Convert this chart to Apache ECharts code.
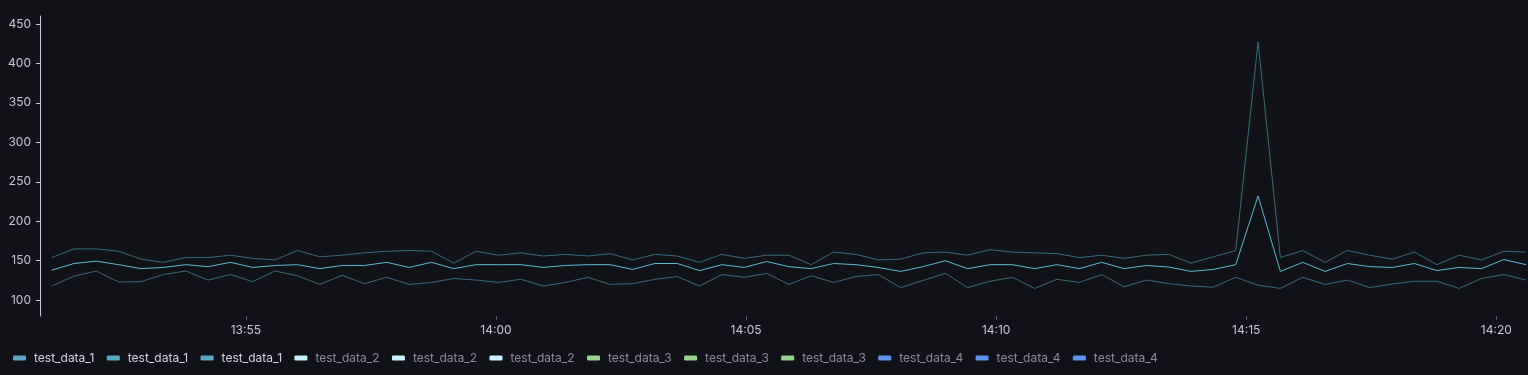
<!DOCTYPE html>
<html>
<head>
<meta charset="utf-8">
<script src="https://cdn.jsdelivr.net/npm/echarts@6/dist/echarts.min.js"></script>
<style>
html,body{margin:0;padding:0;background:#111217;}
#chart{width:1528px;height:375px;}
</style>
</head>
<body>
<div id="chart"></div>
<script>
// time of the first sample (seconds since midnight, 13:51:07) and the sample step (s)
const startSec = 49867;
const stepSec = 26.8;

const upperValues = [154,165,165,162,152,148,154,154,157,153,151,
  163,155,157,160,162,163,162,147,162,157,160,
  156,158,156,159,151,158,156,148,158,153,157,
  157,145,161,158,151,152,160,161,157,164,161,
  160,159,154,157,153,157,158,147,155,163,
  427,
  154,163,148,163,157,152,161,145,157,151,162,161];

const meanValues = [138,146.5,149.5,145,140,141.5,145,142.5,148,141.5,144,
  145,140,144,144,148,141.5,148,140,145,145,145,
  141.5,144,145,145,139,146.5,146.5,137.5,145,141.5,149,
  142.5,140,146.5,145,141.5,136.5,142.5,150,140,145,145,
  140,145,140,148,140,144,142,136.5,139,145,
  232,
  136.5,148,136.5,146.5,142.5,141.5,146.5,137.5,141.5,140,151.5,145];

const lowerValues = [118,130.5,137,123,123.5,132.5,137,125.5,132.5,123.5,137,
  131,120,131.5,121,129,120,122.5,127.5,125.5,122.5,126.5,
  118,122.5,129,120,121,126.5,130,118,132.5,129,134,
  120,131,122.5,130,132.5,116,125,134,116,124,129,
  115,126.5,122.5,132.5,117,125.5,121,118,116.5,129,
  119,
  115,129,120,125.5,116,120.5,124,124,115,127.5,132.5,125.5];

const yTicks = [100,150,200,250,300,350,400,450];
// x tick positions, seconds since midnight: 13:55 .. 14:20
const xTicks = [50100,50400,50700,51000,51300,51600];

const legendNames = ['test_data_1','test_data_1','test_data_1',
  'test_data_2','test_data_2','test_data_2',
  'test_data_3','test_data_3','test_data_3',
  'test_data_4','test_data_4','test_data_4'];
const legendColors = ['#5aa8c4','#5aa8c4','#5aa8c4',
  '#c9f3ff','#c9f3ff','#c9f3ff',
  '#96d38c','#96d38c','#96d38c',
  '#5b93ee','#5b93ee','#5b93ee'];
const legendVisible = [true,true,true,false,false,false,false,false,false,false,false,false];

const times = meanValues.map((_, i) => startSec + i * stepSec);
const pair = arr => arr.map((v, i) => [times[i], v]);

function fmtTime(sec) {
  const h = Math.floor(sec / 3600);
  const m = Math.round((sec % 3600) / 60);
  return String(h).padStart(2,'0') + ':' + String(m).padStart(2,'0');
}

const seriesData = [meanValues, upperValues, lowerValues];
const lineColors = ['#5cb8d3', '#37687a', '#37687a'];

const series = legendNames.map((name, i) => {
  const id = name + '#' + i;
  const data = i < 3 ? pair(seriesData[i]) : [];
  return {
    name: id,
    type: 'line',
    data: data,
    showSymbol: false,
    symbol: 'none',
    animation: false,
    color: legendColors[i],
    lineStyle: { width: 1, color: i < 3 ? lineColors[i] : legendColors[i] },
    z: i === 0 ? 3 : 2
  };
});

const chart = echarts.init(document.getElementById('chart'), null, { renderer: 'canvas' });
chart.setOption({
  backgroundColor: '#111217',
  animation: false,
  textStyle: { fontFamily: 'Inter' },
  grid: { left: 40, right: 0, top: 16, bottom: 59, containLabel: false },
  legend: {
    left: 8,
    top: 347,
    selectedMode: false,
    icon: 'roundRect',
    itemWidth: 13,
    itemHeight: 5,
    itemGap: 12.4,
    formatter: n => n.split('#')[0],
    textStyle: { fontSize: 12, fontFamily: 'Inter', padding: [0, 0, 0, 3] },
    data: legendNames.map((name, i) => ({
      name: name + '#' + i,
      itemStyle: { color: legendColors[i] },
      textStyle: { color: legendVisible[i] ? '#d4d5de' : '#8b8c96' }
    }))
  },
  xAxis: {
    type: 'value',
    min: 49853,
    max: 51638,
    axisLine: { show: false },
    axisTick: { show: true, length: 4, lineStyle: { color: '#5a5b63' }, customValues: xTicks },
    splitLine: { show: false },
    axisLabel: {
      customValues: xTicks,
      color: '#c7c8d3',
      fontSize: 12,
      fontFamily: 'Inter',
      margin: 8,
      formatter: v => fmtTime(v)
    }
  },
  yAxis: {
    type: 'value',
    min: 80,
    max: 460,
    axisLine: { show: true, lineStyle: { color: '#c9cad4', width: 1 } },
    axisTick: { show: true, length: 4, lineStyle: { color: '#c9cad4' }, customValues: yTicks },
    splitLine: { show: false },
    axisLabel: {
      customValues: yTicks,
      color: '#c7c8d3',
      fontSize: 12,
      fontFamily: 'Inter',
      margin: 9
    }
  },
  series: series
});
</script>
</body>
</html>
